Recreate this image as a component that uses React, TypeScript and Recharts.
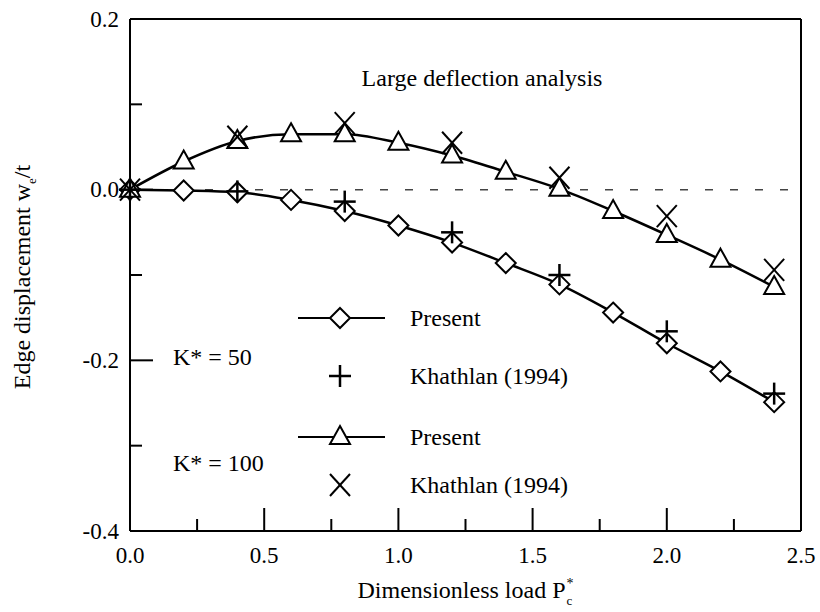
import React from "react";
import { LineChart, Line, XAxis, YAxis, ReferenceLine } from "recharts";

// dimensionless load P_c* (x) and edge displacement w_e/t (y)
const loadPresent = [0, 0.2, 0.4, 0.6, 0.8, 1.0, 1.2, 1.4, 1.6, 1.8, 2.0, 2.2, 2.4];
const loadKhathlan = [0, 0.4, 0.8, 1.2, 1.6, 2.0, 2.4];

const k50Present = [0, -0.001, -0.003, -0.012, -0.025, -0.042, -0.062, -0.086, -0.111, -0.144, -0.18, -0.213, -0.249];
const k50Khathlan = [0, -0.002, -0.014, -0.05, -0.1, -0.166, -0.239];
const k100Present = [0, 0.033, 0.057, 0.065, 0.065, 0.055, 0.04, 0.021, 0.001, -0.025, -0.053, -0.082, -0.114];
const k100Khathlan = [0, 0.062, 0.078, 0.055, 0.014, -0.031, -0.094];

const xTicks = [0, 0.25, 0.5, 0.75, 1.0, 1.25, 1.5, 1.75, 2.0, 2.25, 2.5];
const yTicks = [-0.4, -0.3, -0.2, -0.1, 0, 0.1, 0.2];

const FONT = "'Liberation Serif', 'DejaVu Serif', serif";

const toRows = (xs: number[], ys: number[]) => xs.map((x, i) => ({ x, y: ys[i] }));

type Kind = "diamond" | "plus" | "triangle" | "cross";

const Marker = ({ kind, cx, cy }: { kind: Kind; cx: number; cy: number }) => {
  if (kind === "diamond")
    return (
      <polygon
        points={`${cx},${cy - 10} ${cx + 10},${cy} ${cx},${cy + 10} ${cx - 10},${cy}`}
        fill="#fff"
        stroke="#000"
        strokeWidth={2}
      />
    );
  if (kind === "triangle")
    return (
      <polygon
        points={`${cx},${cy - 11} ${cx + 10},${cy + 7} ${cx - 10},${cy + 7}`}
        fill="#fff"
        stroke="#000"
        strokeWidth={2}
      />
    );
  if (kind === "plus")
    return (
      <g stroke="#000" strokeWidth={2.5}>
        <line x1={cx - 11} x2={cx + 11} y1={cy} y2={cy} />
        <line x1={cx} x2={cx} y1={cy - 11} y2={cy + 11} />
      </g>
    );
  return (
    <g stroke="#000" strokeWidth={2}>
      <line x1={cx - 10} x2={cx + 10} y1={cy - 11} y2={cy + 11} />
      <line x1={cx - 10} x2={cx + 10} y1={cy + 11} y2={cy - 11} />
    </g>
  );
};

const dotOf = (kind: Kind) => (p: any) => (
  <Marker key={`${kind}-${p.index}`} kind={kind} cx={p.cx} cy={p.cy} />
);

const YTick = (props: any) => {
  const { x, y, payload } = props;
  const v = payload.value as number;
  const major = Math.round(v * 10) % 2 === 0;
  const inner = v > -0.39 && v < 0.19;
  return (
    <g>
      {inner && (
        <line x1={x} x2={x + (major ? 23 : 12)} y1={y} y2={y} stroke="#000" strokeWidth={2} />
      )}
      {major && (
        <text x={x - 11} y={y} textAnchor="end" dominantBaseline="central" fontFamily={FONT} fontSize={23} fill="#000">
          {v.toFixed(1)}
        </text>
      )}
    </g>
  );
};

const XTick = (props: any) => {
  const { x, y, payload } = props;
  const v = payload.value as number;
  const major = Math.round(v * 4) % 2 === 0;
  const inner = v > 0.01 && v < 2.49;
  return (
    <g>
      {inner && (
        <line x1={x} x2={x} y1={y} y2={y - (major ? 23 : 12)} stroke="#000" strokeWidth={2} />
      )}
      {major && (
        <text x={x} y={y + 24} textAnchor="middle" dominantBaseline="central" fontFamily={FONT} fontSize={23} fill="#000">
          {v.toFixed(1)}
        </text>
      )}
    </g>
  );
};

const abs = (left: number, top: number, extra: React.CSSProperties = {}): React.CSSProperties => ({
  position: "absolute",
  left,
  top,
  fontFamily: FONT,
  fontSize: 24,
  lineHeight: 1,
  whiteSpace: "nowrap",
  color: "#000",
  ...extra,
});

const legendRows: { kind: Kind; line: boolean; label: string; y: number }[] = [
  { kind: "diamond", line: true, label: "Present", y: 318 },
  { kind: "plus", line: false, label: "Khathlan (1994)", y: 376 },
  { kind: "triangle", line: true, label: "Present", y: 437 },
  { kind: "cross", line: false, label: "Khathlan (1994)", y: 485 },
];

export default function App() {
  return (
    <div style={{ position: "absolute", left: 0, top: 0, width: 820, height: 612, background: "#fff" }}>
      <LineChart width={820} height={612} margin={{ top: 19, right: 19, bottom: 51, left: 70 }}>
        <XAxis
          type="number"
          dataKey="x"
          domain={[0, 2.5]}
          ticks={xTicks}
          interval={0}
          height={30}
          tickSize={0}
          tickMargin={0}
          tickLine={false}
          tick={<XTick />}
          axisLine={{ stroke: "#000", strokeWidth: 2 }}
          allowDuplicatedCategory={false}
        />
        <YAxis
          type="number"
          dataKey="y"
          domain={[-0.4, 0.2]}
          ticks={yTicks}
          interval={0}
          width={60}
          tickSize={0}
          tickMargin={0}
          tickLine={false}
          tick={<YTick />}
          axisLine={{ stroke: "#000", strokeWidth: 2 }}
        />
        <ReferenceLine y={0.2} stroke="#000" strokeWidth={2} />
        <ReferenceLine x={2.5} stroke="#000" strokeWidth={2} />
        <ReferenceLine y={0} stroke="#444" strokeWidth={1.5} strokeDasharray="8 17" />
        <Line
          data={toRows(loadPresent, k50Present)}
          dataKey="y"
          type="monotone"
          stroke="#000"
          strokeWidth={2.5}
          dot={dotOf("diamond")}
          isAnimationActive={false}
        />
        <Line
          data={toRows(loadPresent, k100Present)}
          dataKey="y"
          type="monotone"
          stroke="#000"
          strokeWidth={2.5}
          dot={dotOf("triangle")}
          isAnimationActive={false}
        />
        <Line
          data={toRows(loadKhathlan, k50Khathlan)}
          dataKey="y"
          stroke="none"
          dot={dotOf("plus")}
          isAnimationActive={false}
        />
        <Line
          data={toRows(loadKhathlan, k100Khathlan)}
          dataKey="y"
          stroke="none"
          dot={dotOf("cross")}
          isAnimationActive={false}
        />
      </LineChart>

      <div style={abs(482, 78, { transform: "translate(-50%, -50%)" })}>Large deflection analysis</div>

      <div style={abs(173, 357, { transform: "translateY(-50%)" })}>K* = 50</div>
      <div style={abs(173, 463, { transform: "translateY(-50%)" })}>K* = 100</div>

      <svg width={820} height={612} style={{ position: "absolute", left: 0, top: 0, pointerEvents: "none" }}>
        {legendRows.map((r) => (
          <g key={`${r.kind}`}>
            {r.line && <line x1={298} x2={385} y1={r.y} y2={r.y} stroke="#000" strokeWidth={2} />}
            <Marker kind={r.kind} cx={340} cy={r.y} />
            <text x={410} y={r.y} dominantBaseline="central" fontFamily={FONT} fontSize={24} fill="#000">
              {r.label}
            </text>
          </g>
        ))}
      </svg>

      <div style={abs(466, 590, { transform: "translate(-50%, -50%)" })}>
        Dimensionless load P
        <span style={{ position: "relative", display: "inline-block", width: 9, height: 1 }}>
          <span style={{ position: "absolute", left: 1, top: -20, fontSize: 14 }}>*</span>
          <span style={{ position: "absolute", left: 1, top: -3, fontSize: 13 }}>c</span>
        </span>
      </div>

      <div style={abs(24, 277, { transform: "translate(-50%, -50%) rotate(-90deg)" })}>
        Edge displacement w<sub style={{ fontSize: 13 }}>e</sub>/t
      </div>
    </div>
  );
}
